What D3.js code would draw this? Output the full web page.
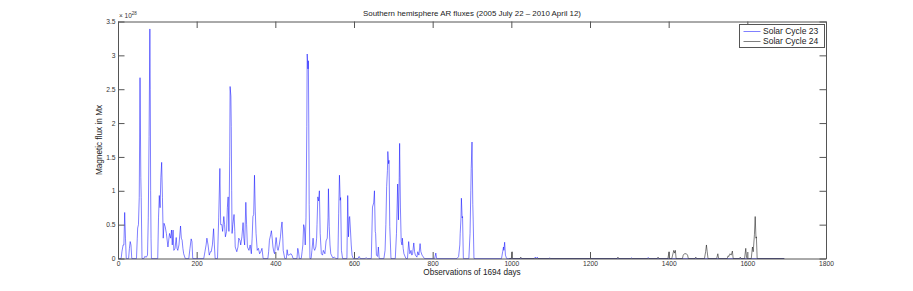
<!DOCTYPE html>
<html>
<head>
<meta charset="utf-8">
<script src="https://cdn.jsdelivr.net/npm/d3@7"></script>
<style>
  body { margin: 0; background: #fff; }
  text { font-family: "Liberation Sans", Helvetica, Arial, sans-serif; }
</style>
</head>
<body>
<svg id="chart" width="913" height="291"></svg>
<script>
// Southern hemisphere AR fluxes, values in units of 10^28 Mx
var xTicks = [0, 200, 400, 600, 800, 1000, 1200, 1400, 1600, 1800];
var yTicks = [0, 0.5, 1, 1.5, 2, 2.5, 3, 3.5];
var seriesNames = ["Solar Cycle 23", "Solar Cycle 24"];

// Solar Cycle 23 (blue)
var cycle23Days = [0, 8, 10, 13, 15, 17, 19, 21, 27, 29, 31, 33, 35, 47, 49, 50, 52, 54, 56, 58, 59, 61,
  66, 68, 72, 75, 77, 79, 81, 82, 83, 84, 85, 101, 103, 105, 107, 109, 111, 113, 115, 117, 120, 123,
  127, 131, 134, 136, 138, 140, 142, 145, 148, 150, 152, 155, 159, 161, 163, 165, 167, 171, 180, 183,
  186, 188, 190, 218, 221, 224, 226, 229, 232, 235, 237, 240, 243, 245, 247, 253, 256, 259, 261, 264,
  266, 269, 271, 273, 276, 278, 280, 282, 284, 285, 287, 288, 289, 290, 292, 295, 297, 298, 302, 305,
  307, 310, 312, 315, 318, 320, 322, 325, 327, 329, 333, 336, 339, 341, 343, 345, 347, 349, 351, 354,
  357, 360, 363, 366, 369, 381, 383, 385, 388, 390, 392, 394, 396, 398, 400, 402, 405, 407, 410, 413,
  415, 417, 419, 420, 424, 428, 430, 432, 434, 437, 440, 443, 445, 455, 457, 459, 461, 466, 468, 470,
  472, 474, 476, 478, 480, 481, 483, 484, 485, 486, 488, 491, 493, 496, 498, 500, 503, 505, 506, 508,
  510, 512, 514, 517, 520, 522, 526, 529, 532, 534, 535, 537, 539, 541, 546, 550, 554, 559, 561, 563,
  565, 566, 568, 571, 582, 584, 586, 588, 589, 591, 593, 595, 598, 610, 613, 616, 628, 631, 634, 644,
  647, 650, 652, 654, 655, 657, 660, 662, 664, 676, 679, 681, 683, 685, 686, 688, 689, 691, 694, 705,
  708, 711, 713, 715, 716, 718, 720, 722, 723, 725, 727, 732, 736, 739, 742, 745, 747, 749, 752, 754,
  756, 760, 762, 765, 768, 770, 773, 779, 805, 808, 810, 862, 866, 869, 870, 872, 873, 875, 876, 878,
  892, 895, 897, 898, 900, 902, 903, 905, 975, 978, 980, 981, 983, 985, 988, 1058, 1061, 1063, 1066,
  1068, 1096, 1098, 1100, 1303, 1305, 1307, 1346, 1348, 1350, 1694];
var cycle23Flux = [0, 0, 0.1, 0.2, 0.2, 0.68, 0.3, 0, 0, 0.15, 0.25, 0.2, 0, 0, 0.3, 0.45, 0.5, 0.9, 2.67, 1.2, 0.9, 0,
  0, 0.03, 0.02, 0.05, 0.6, 1.8, 3.39, 2.5, 1.0, 0.3, 0, 0, 0.6, 0.93, 0.75, 1.2, 1.42, 0.9, 0.3, 0.52, 0.47, 0.37,
  0.17, 0.37, 0.3, 0.42, 0.2, 0.42, 0.12, 0.15, 0.31, 0.15, 0.12, 0.2, 0.48, 0.3, 0.27, 0.15, 0.07, 0, 0, 0.15,
  0.29, 0.25, 0, 0, 0.1, 0.2, 0.3, 0.2, 0.05, 0.1, 0.1, 0.2, 0.44, 0.2, 0, 0, 0.6, 1.33, 0.5, 0.5,
  0.4, 0.62, 0.5, 0.32, 0.4, 0.75, 0.91, 0.4, 1.5, 2.54, 2.4, 1.95, 1.0, 0.37, 0.5, 0.65, 0.4, 0.17, 0.1, 0.17,
  0.3, 0.27, 0.2, 0.32, 0.53, 0.3, 0.2, 0.83, 0.5, 0.17, 0.12, 0.2, 0.07, 0.3, 0.62, 0.65, 1.23, 0.7, 0.37, 0.12,
  0.15, 0.07, 0.1, 0.15, 0, 0, 0.1, 0.27, 0.35, 0.41, 0.3, 0.17, 0.1, 0.07, 0.2, 0.31, 0.15, 0.12, 0.2, 0.32,
  0.45, 0.54, 0.3, 0.12, 0, 0, 0.13, 0.05, 0.05, 0.06, 0.07, 0.04, 0, 0, 0.15, 0.1, 0, 0, 0.1, 0.2,
  0.5, 0.45, 0.2, 0.6, 1.95, 3.02, 2.8, 2.92, 2.0, 0.8, 0, 0, 0.12, 0.3, 0.15, 0.12, 0.17, 0.3, 0.5, 0.91,
  0.85, 1.0, 0.37, 0.07, 0.05, 0.12, 0.07, 0.26, 0.3, 0.6, 1.03, 0.47, 0.2, 0.07, 0.01, 0.02, 0, 0, 0.66, 1.23,
  0.86, 0.9, 0.12, 0, 0, 0.93, 0.32, 0.6, 0.62, 0.42, 0.2, 0.05, 0, 0, 0.03, 0, 0, 0.01, 0, 0,
  0.76, 0.82, 1.0, 0.4, 0.37, 0.05, 0.03, 0.17, 0, 0, 0.12, 0.5, 1.06, 1.3, 1.58, 1.4, 1.45, 0.47, 0, 0,
  0.37, 1.1, 0.57, 1.2, 1.70, 0.76, 0.25, 0.2, 0.3, 0.15, 0.07, 0, 0, 0.25, 0.07, 0.12, 0.05, 0.07, 0.23, 0.1,
  0.05, 0.02, 0.1, 0.05, 0.22, 0.1, 0.05, 0, 0, 0.08, 0, 0, 0.03, 0.2, 0.37, 0.6, 0.89, 0.6, 0.62, 0,
  0, 0.37, 1.0, 1.33, 1.72, 0.8, 0.57, 0, 0, 0.1, 0.17, 0.12, 0.24, 0.05, 0, 0, 0.02, 0, 0.02,
  0, 0, 0.01, 0, 0, 0.01, 0, 0, 0.015, 0, 0];

// Solar Cycle 24 (black)
var cycle24Days = [995, 1000, 1002, 1003, 1022, 1024, 1026, 1269, 1271, 1273, 1371, 1373, 1375, 1398, 1401, 1402,
  1408, 1410, 1413, 1415, 1417, 1419, 1435, 1437, 1440, 1445, 1448, 1450, 1467, 1469, 1471, 1491, 1494,
  1496, 1498, 1500, 1522, 1525, 1527, 1549, 1551, 1553, 1556, 1559, 1562, 1564, 1580, 1582, 1584, 1593,
  1596, 1598, 1599, 1610, 1613, 1615, 1618, 1620, 1622, 1623, 1625, 1694];
var cycle24Flux = [0, 0, 0.1, 0, 0, 0.02, 0, 0, 0.02, 0, 0, 0.02, 0, 0, 0.1, 0,
  0, 0.05, 0.12, 0.08, 0.12, 0, 0, 0.05, 0.07, 0.07, 0.05, 0, 0, 0.02, 0, 0, 0.1,
  0.2, 0.1, 0, 0, 0.07, 0, 0, 0.04, 0.03, 0.07, 0.05, 0.11, 0, 0, 0.02, 0, 0,
  0.15, 0.02, 0, 0, 0.17, 0.1, 0.35, 0.62, 0.3, 0.32, 0, 0];

var svg = d3.select("#chart");
var plotLeft = 118, plotRight = 826, plotTop = 21.5, plotBottom = 258.5;

var x = d3.scaleLinear().domain([0, 1800]).range([plotLeft, plotRight]);
var y = d3.scaleLinear().domain([0, 3.5]).range([plotBottom, plotTop]);

function pairs(days, flux) {
  return days.map(function (d, i) { return [d, flux[i]]; });
}

var line = d3.line()
  .x(function (d) { return x(d[0]); })
  .y(function (d) { return y(d[1]); });

// data lines first, axes over them
svg.append("path")
  .datum(pairs(cycle23Days, cycle23Flux))
  .attr("d", line)
  .attr("fill", "none")
  .attr("stroke", "#0000ff")
  .attr("stroke-width", 0.5)
  .attr("stroke-linejoin", "round");

svg.append("path")
  .datum(pairs(cycle24Days, cycle24Flux))
  .attr("d", line)
  .attr("fill", "none")
  .attr("stroke", "#000")
  .attr("stroke-width", 0.5)
  .attr("stroke-linejoin", "round");

var axisColor = "#555";
var tickLen = 6.5;

var xAxisBottom = d3.axisBottom(x).tickValues(xTicks).tickSizeInner(-tickLen).tickSizeOuter(0).tickPadding(3)
  .tickFormat(d3.format("d"));
var xAxisTop = d3.axisTop(x).tickValues(xTicks).tickSizeInner(-tickLen).tickSizeOuter(0).tickFormat("");
var yAxisLeft = d3.axisLeft(y).tickValues(yTicks).tickSizeInner(-tickLen).tickSizeOuter(0).tickPadding(2.5)
  .tickFormat(function (d) { return String(d); });
var yAxisRight = d3.axisRight(y).tickValues(yTicks).tickSizeInner(-tickLen).tickSizeOuter(0).tickFormat("");

function styleAxis(g) {
  g.select(".domain").attr("stroke", axisColor).attr("stroke-width", 1);
  g.selectAll(".tick line").attr("stroke", axisColor).attr("stroke-width", 1);
  g.selectAll(".tick text").attr("fill", "#333").style("font-size", "6.7px")
    .style("font-family", "'Liberation Sans', Helvetica, Arial, sans-serif");
}

svg.append("g").attr("transform", "translate(0," + plotBottom + ")").call(xAxisBottom).call(styleAxis);
svg.append("g").attr("transform", "translate(0," + plotTop + ")").call(xAxisTop).call(styleAxis);
svg.append("g").attr("transform", "translate(" + plotLeft + ",0)").call(yAxisLeft).call(styleAxis);
svg.append("g").attr("transform", "translate(" + plotRight + ",0)").call(yAxisRight).call(styleAxis);

// exponent label
var expo = svg.append("text")
  .attr("x", plotLeft + 1)
  .attr("y", plotTop - 3.5)
  .attr("fill", "#333")
  .style("font-size", "6.5px")
  .text("\u00d7 10");
expo.append("tspan")
  .attr("dy", -3)
  .style("font-size", "4.5px")
  .text("28");

// title and axis labels
svg.append("text")
  .attr("x", (plotLeft + plotRight) / 2)
  .attr("y", 15.5)
  .attr("text-anchor", "middle")
  .attr("fill", "#222")
  .style("font-size", "7.9px")
  .text("Southern hemisphere AR fluxes (2005 July 22 \u2013 2010 April 12)");

svg.append("text")
  .attr("x", (plotLeft + plotRight) / 2)
  .attr("y", 275)
  .attr("text-anchor", "middle")
  .attr("fill", "#222")
  .style("font-size", "8.2px")
  .text("Observations of 1694 days");

svg.append("text")
  .attr("transform", "translate(102," + ((plotTop + plotBottom) / 2) + ") rotate(-90)")
  .attr("text-anchor", "middle")
  .attr("fill", "#222")
  .style("font-size", "8.2px")
  .text("Magnetic flux in Mx");

// legend
var legend = svg.append("g").attr("transform", "translate(739.5,24.5)");
legend.append("rect")
  .attr("width", 85)
  .attr("height", 23)
  .attr("fill", "#fff")
  .attr("stroke", axisColor)
  .attr("stroke-width", 1);

var legendColors = ["#0000ff", "#000"];
seriesNames.forEach(function (name, i) {
  var row = legend.append("g").attr("transform", "translate(0," + (7 + i * 10) + ")");
  row.append("line")
    .attr("x1", 4).attr("x2", 21)
    .attr("y1", 0).attr("y2", 0)
    .attr("stroke", legendColors[i])
    .attr("stroke-width", 0.5);
  row.append("text")
    .attr("x", 23.5)
    .attr("y", 2.8)
    .attr("fill", "#222")
    .style("font-size", "8.5px")
    .text(name);
});
</script>
</body>
</html>
